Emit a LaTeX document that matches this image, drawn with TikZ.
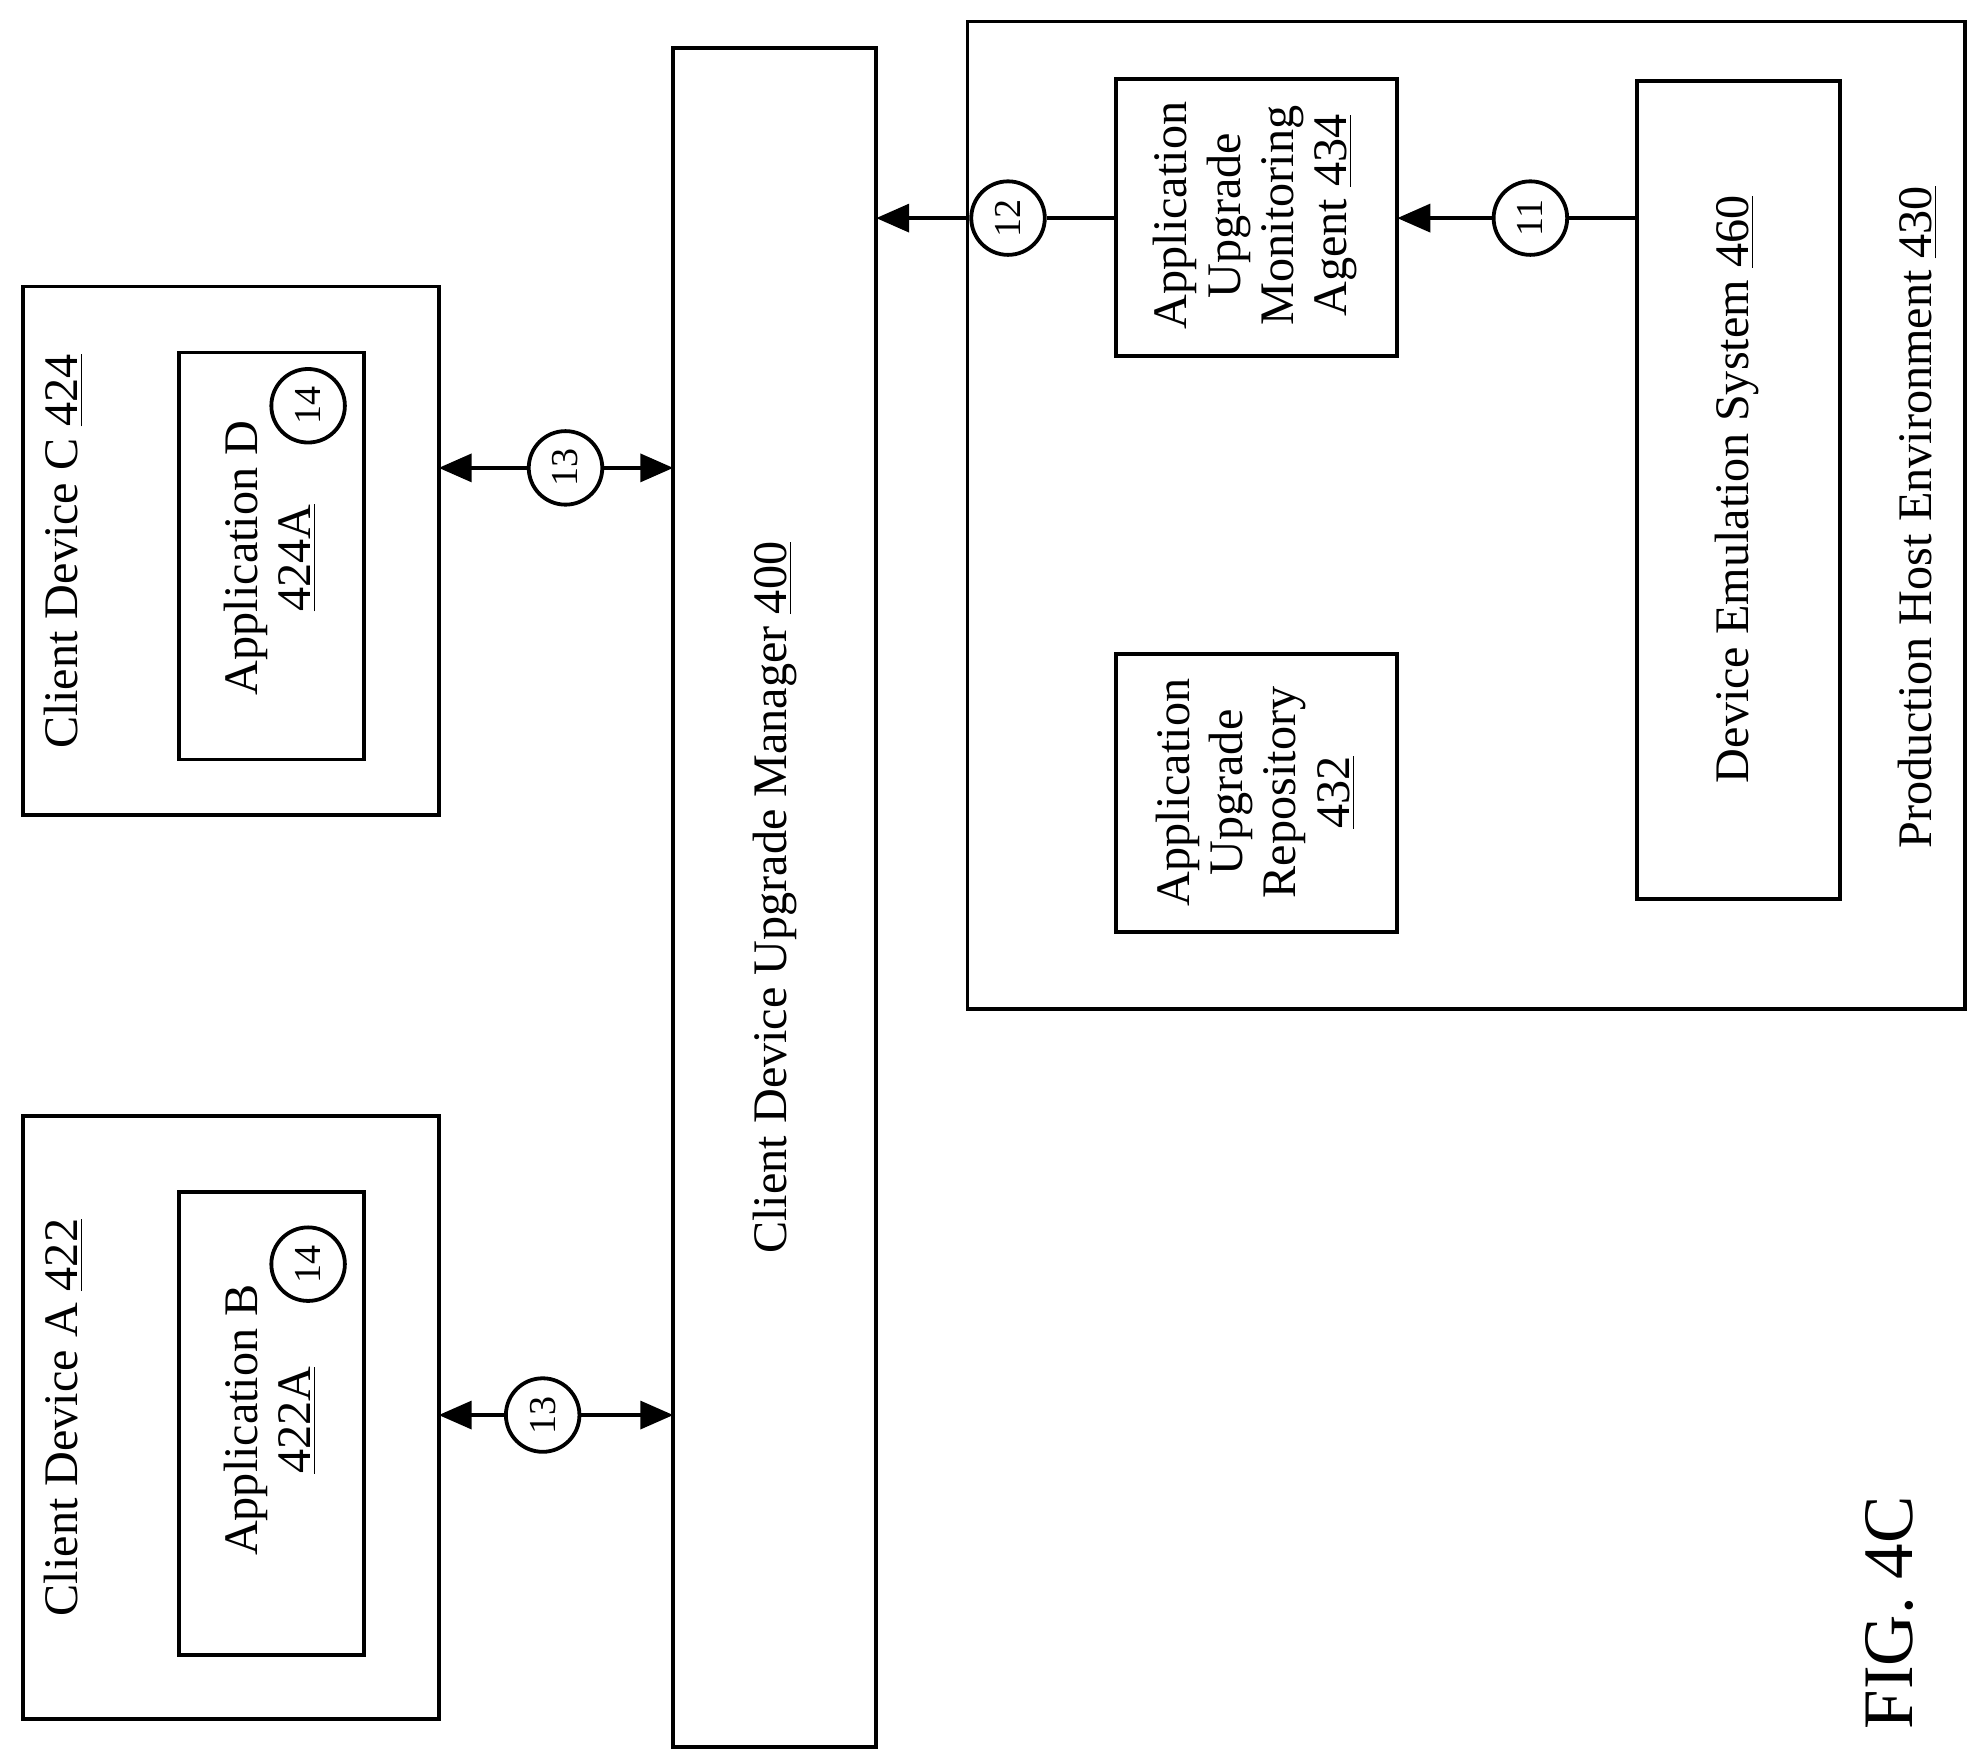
\documentclass[tikz,border=0pt]{standalone}
\usepackage{fontspec}
\setmainfont{Liberation Serif}
\usetikzlibrary{arrows.meta}
\begin{document}
\begin{tikzpicture}[x=0.5pt,y=-0.5pt,
  box/.style={draw,line width=1.5pt},
  lbl/.style={rotate=90,align=center,font=\fontsize{19}{21}\selectfont,inner sep=0},
  num/.style={draw,circle,line width=1.5pt,minimum size=29pt,inner sep=0,rotate=90,font=\fontsize{15}{15}\selectfont,fill=white},
  arr/.style={line width=1.5pt,-{Triangle[length=13pt,width=11pt]}}]
\useasboundingbox (0,0) rectangle (1560,1389);
% boxes
\draw[box] (18,880) rectangle (346,1356);
\draw[box] (141,940) rectangle (287,1305);
\draw[box] (18,226) rectangle (346,643);
\draw[box] (141,278) rectangle (287,599);
\draw[box] (531,38) rectangle (691,1378);
\draw[box] (763,17) rectangle (1550,796);
\draw[box] (880,62) rectangle (1102,281);
\draw[box] (880,516) rectangle (1102,735);
\draw[box] (1291,64) rectangle (1451,709);
\coordinate (cA) at (346,1116); \coordinate (cC) at (346,369);
\coordinate (mA) at (531,1116); \coordinate (mC) at (531,369);
\coordinate (mg) at (691,172); \coordinate (agL) at (880,172);
\coordinate (agR) at (1102,172); \coordinate (em) at (1291,172);
% labels
\node[lbl] (la) at (50,1118) {Client Device A \underline{422}};
\node[lbl] (lb) at (213,1120) {Application B\\\underline{422A}};
\node[lbl] (lc) at (50,435) {Client Device C \underline{424}};
\node[lbl] (ld) at (213,440) {Application D\\\underline{424A}};
\node[lbl] (lm) at (611,708) {Client Device Upgrade Manager \underline{400}};
\node[lbl] (lg) at (990,170) {Application\\Upgrade\\Monitoring\\Agent \underline{434}};
\node[lbl] (lr) at (990,625) {Application\\Upgrade\\Repository\\\underline{432}};
\node[lbl] (le) at (1370,386) {Device Emulation System \underline{460}};
\node[lbl] (lp) at (1512,408) {Production Host Environment \underline{430}};
\node[rotate=90,font=\fontsize{28}{30}\selectfont,inner sep=0] (fig) at (1490,1272) {FIG. 4C};
\node[num] (n14a) at (243,997) {14};
\node[num] (n14c) at (243,320) {14};
% connectors
\node[num] (n13a) at (428,1116) {13};
\node[num] (n13c) at (446,369) {13};
\node[num] (n12) at (795,172) {12};
\node[num] (n11) at (1207,172) {11};
\draw[arr] (n13a) -- (cA); \draw[arr] (n13a) -- (mA);
\draw[arr] (n13c) -- (cC); \draw[arr] (n13c) -- (mC);
\draw[line width=1.5pt] (agL) -- (n12); \draw[arr] (n12) -- (mg);
\draw[line width=1.5pt] (em) -- (n11); \draw[arr] (n11) -- (agR);
\end{tikzpicture}
\end{document}
